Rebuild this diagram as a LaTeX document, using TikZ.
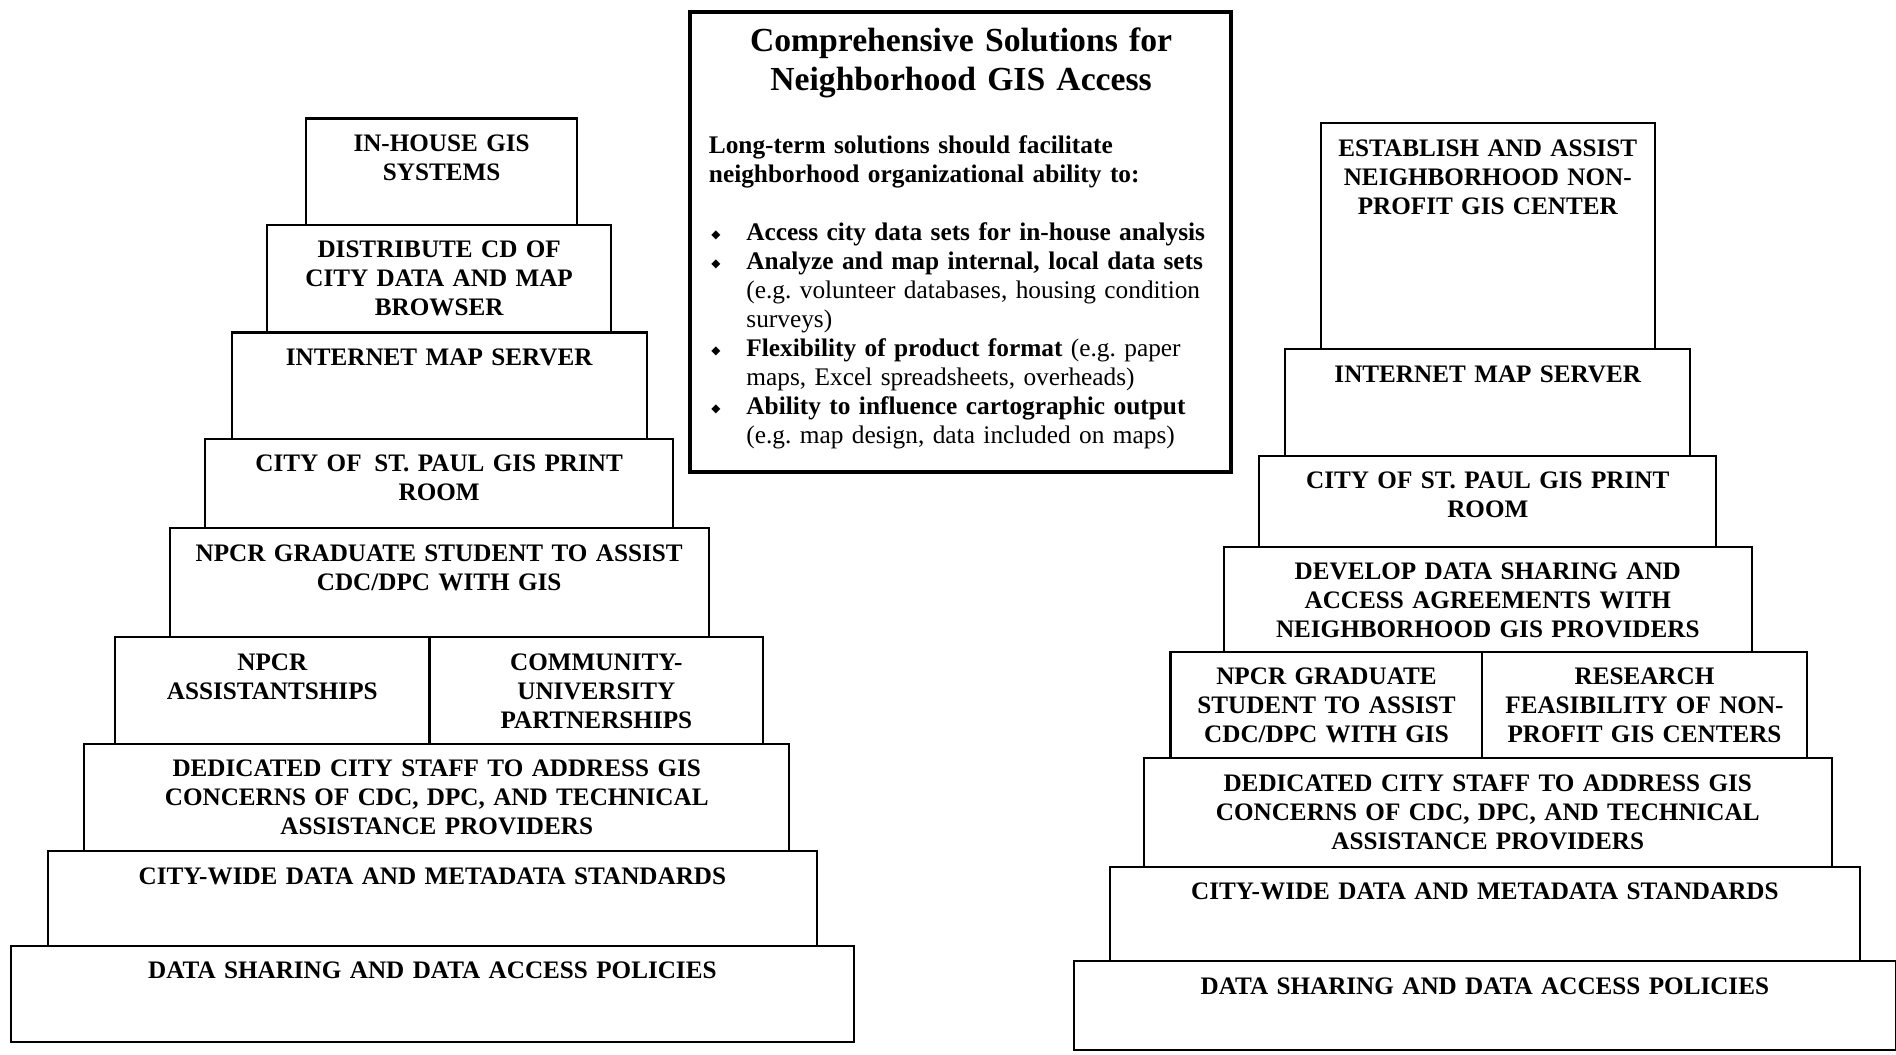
\documentclass[tikz,border=0pt]{standalone}
\usepackage{fontspec}
\setmainfont{Liberation Serif}
\newfontfamily\symfont{DejaVu Sans}
\usetikzlibrary{positioning}
\frenchspacing

\newcommand{\bul}{\makebox[7.75mm][l]{\hspace{0.5mm}\raisebox{0.4mm}{\symfont\fontsize{7}{7}\selectfont ◆}}}
\newcommand{\hang}{\hspace*{7.75mm}}

\begin{document}
\begin{tikzpicture}[
        % ----- 全局样式 -----
        tier/.style={draw, line width=1.2pt, inner sep=0pt, outer sep=0pt},
        tierlbl/.style={anchor=base, align=center, text width=170mm, inner sep=0pt,
            font=\bfseries\fontsize{14.8}{17.07}\selectfont},
        frame/.style={draw, line width=2.3pt, inner sep=0pt},
        head/.style={anchor=base, align=center, text width=110mm, inner sep=0pt,
            font=\bfseries\fontsize{19.8}{22.8}\selectfont},
        body/.style={anchor=base west, align=left, text width=108mm, inner sep=0pt,
            font=\bfseries\fontsize{14.9}{17.07}\selectfont}
    ]
    \useasboundingbox (0,0) rectangle (392mm,218mm);

    % ----- 左侧阶梯 -----
    \node[tier, minimum width=174.25mm, minimum height=20mm] (l9) at (89.4mm,12.5mm) {};
    \node[tier, minimum width=159mm, minimum height=19.5mm, above=0pt of l9] (l8) {};
    \node[tier, minimum width=145.75mm, minimum height=22.25mm, above=0pt of l8, xshift=0.9mm] (l7) {};
    \node[tier, minimum width=65mm, minimum height=22mm, anchor=south west] (l6a) at ([xshift=-66.5mm]l7.north) {};
    \node[tier, minimum width=69mm, minimum height=22mm, right=0pt of l6a] (l6b) {};
    \node[tier, minimum width=111.5mm, minimum height=22.5mm, anchor=south] (l5) at ([xshift=0.5mm]l7.north |- l6a.north) {};
    \node[tier, minimum width=96.75mm, minimum height=18.5mm, above=0pt of l5] (l4) {};
    \node[tier, minimum width=85.75mm, minimum height=22mm, above=0pt of l4] (l3) {};
    \node[tier, minimum width=71mm, minimum height=22.25mm, above=0pt of l3] (l2) {};
    \node[tier, minimum width=56mm, minimum height=22mm, above=0pt of l2, xshift=0.5mm] (l1) {};

    \node[tierlbl] (tl1) at ([yshift=-6.8mm]l1.north) {IN-HOUSE GIS\\SYSTEMS};
    \node[tierlbl] (tl2) at ([yshift=-6.8mm]l2.north) {DISTRIBUTE CD OF\\CITY DATA AND MAP\\BROWSER};
    \node[tierlbl] (tl3) at ([yshift=-6.8mm]l3.north) {INTERNET MAP SERVER};
    \node[tierlbl] (tl4) at ([yshift=-6.8mm]l4.north) {CITY OF\enspace ST. PAUL GIS PRINT\\ROOM};
    \node[tierlbl] (tl5) at ([yshift=-6.8mm]l5.north) {NPCR GRADUATE STUDENT TO ASSIST\\CDC/DPC WITH GIS};
    \node[tierlbl] (tl6a) at ([yshift=-6.8mm]l6a.north) {NPCR\\ASSISTANTSHIPS};
    \node[tierlbl] (tl6b) at ([yshift=-6.8mm]l6b.north) {COMMUNITY-\\UNIVERSITY\\PARTNERSHIPS};
    \node[tierlbl] (tl7) at ([yshift=-6.8mm]l7.north) {DEDICATED CITY STAFF TO ADDRESS GIS\\CONCERNS OF CDC, DPC, AND TECHNICAL\\ASSISTANCE PROVIDERS};
    \node[tierlbl] (tl8) at ([yshift=-6.8mm]l8.north) {CITY-WIDE DATA AND METADATA STANDARDS};
    \node[tierlbl] (tl9) at ([yshift=-6.8mm]l9.north) {DATA SHARING AND DATA ACCESS POLICIES};

    % ----- 中间说明框 -----
    \node[frame, minimum width=111.75mm, minimum height=95mm] (box) at (198.6mm,168mm) {};
    \node[head] (title) at (198.7mm,207.25mm) {Comprehensive Solutions for\\Neighborhood GIS Access};
    \node[body] (txt) at (146.5mm,186.3mm) {Long-term solutions should facilitate\\
        neighborhood organizational ability to:\\[17.07pt]
        \bul Access city data sets for in-house analysis\\
        \bul Analyze and map internal, local data sets\\
        \hang{\mdseries (e.g. volunteer databases, housing condition}\\
        \hang{\mdseries surveys)}\\
        \bul Flexibility of product format {\mdseries (e.g. paper}\\
        \hang{\mdseries maps, Excel spreadsheets, overheads)}\\
        \bul Ability to influence cartographic output\\
        \hang{\mdseries (e.g. map design, data included on maps)}};

    % ----- 右侧阶梯 -----
    \node[tier, minimum width=170mm, minimum height=18.25mm] (r8) at (307mm,10.125mm) {};
    \node[tier, minimum width=155mm, minimum height=19.5mm, above=0pt of r8] (r7) {};
    \node[tier, minimum width=142.25mm, minimum height=22.5mm, above=0pt of r7, xshift=0.6mm] (r6) {};
    \node[tier, minimum width=64.5mm, minimum height=22mm, anchor=south west] (r5a) at ([xshift=-65.6mm]r6.north) {};
    \node[tier, minimum width=67mm, minimum height=22mm, right=0pt of r5a] (r5b) {};
    \node[tier, minimum width=109.25mm, minimum height=21.75mm, anchor=south] (r4) at (r6.north |- r5a.north) {};
    \node[tier, minimum width=94.5mm, minimum height=18.75mm, above=0pt of r4] (r3) {};
    \node[tier, minimum width=83.75mm, minimum height=22mm, above=0pt of r3] (r2) {};
    \node[tier, minimum width=69mm, minimum height=46.75mm, above=0pt of r2] (r1) {};

    \node[tierlbl] (tr1) at ([yshift=-6.8mm]r1.north) {ESTABLISH AND ASSIST\\NEIGHBORHOOD NON-\\PROFIT GIS CENTER};
    \node[tierlbl] (tr2) at ([yshift=-6.8mm]r2.north) {INTERNET MAP SERVER};
    \node[tierlbl] (tr3) at ([yshift=-6.8mm]r3.north) {CITY OF ST. PAUL GIS PRINT\\ROOM};
    \node[tierlbl] (tr4) at ([yshift=-6.8mm]r4.north) {DEVELOP DATA SHARING AND\\ACCESS AGREEMENTS WITH\\NEIGHBORHOOD GIS PROVIDERS};
    \node[tierlbl] (tr5a) at ([yshift=-6.8mm]r5a.north) {NPCR GRADUATE\\STUDENT TO ASSIST\\CDC/DPC WITH GIS};
    \node[tierlbl] (tr5b) at ([yshift=-6.8mm]r5b.north) {RESEARCH\\FEASIBILITY OF NON-\\PROFIT GIS CENTERS};
    \node[tierlbl] (tr6) at ([yshift=-6.8mm]r6.north) {DEDICATED CITY STAFF TO ADDRESS GIS\\CONCERNS OF CDC, DPC, AND TECHNICAL\\ASSISTANCE PROVIDERS};
    \node[tierlbl] (tr7) at ([yshift=-6.8mm]r7.north) {CITY-WIDE DATA AND METADATA STANDARDS};
    \node[tierlbl] (tr8) at ([yshift=-6.8mm]r8.north) {DATA SHARING AND DATA ACCESS POLICIES};
\end{tikzpicture}
\end{document}
